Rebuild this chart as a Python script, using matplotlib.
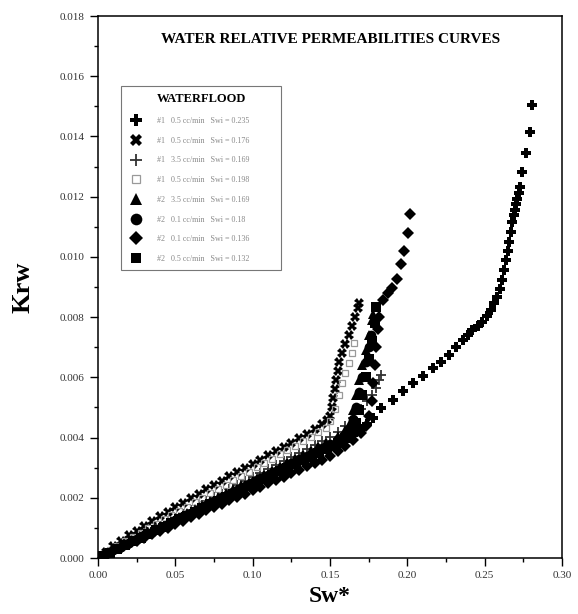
import matplotlib.pyplot as plt
from matplotlib.ticker import MultipleLocator, FormatStrFormatter

plt.rcParams["font.family"] = ["Liberation Serif", "DejaVu Serif"]

# series 1: #1 0.5 cc/min, Swi = 0.235 (bold plus)
sw_1 = [0.000, 0.005, 0.010, 0.015, 0.020, 0.025, 0.030, 0.035, 0.040, 0.045,
        0.050, 0.055, 0.060, 0.065, 0.070, 0.075, 0.080, 0.085, 0.090, 0.095,
        0.100, 0.105, 0.110, 0.115, 0.120, 0.125, 0.130, 0.135, 0.140, 0.145,
        0.150, 0.155, 0.160, 0.165, 0.170, 0.174, 0.178, 0.183, 0.1905, 0.1970,
        0.2034, 0.2100, 0.2163, 0.2217, 0.2270, 0.2313, 0.2357, 0.2390, 0.2420,
        0.2455, 0.2485, 0.2512, 0.2540, 0.2562, 0.2582, 0.2600, 0.2615, 0.2626,
        0.2636, 0.2648, 0.2658, 0.2668, 0.2679, 0.2688, 0.2696, 0.2704, 0.2711,
        0.2720, 0.2727, 0.2742, 0.2770, 0.2790, 0.2806]
krw_1 = [0.00000, 0.00013, 0.00026, 0.00039, 0.00051, 0.00063, 0.00075, 0.00087,
         0.00099, 0.00111, 0.00123, 0.00135, 0.00147, 0.00159, 0.00171, 0.00183,
         0.00195, 0.00207, 0.00219, 0.00231, 0.00243, 0.00255, 0.00267, 0.00279,
         0.00291, 0.00303, 0.00315, 0.00327, 0.00339, 0.00351, 0.00363, 0.00377,
         0.00393, 0.00410, 0.00428, 0.00445, 0.00465, 0.00497, 0.00525, 0.00553,
         0.00580, 0.00605, 0.00630, 0.00652, 0.00674, 0.00700, 0.00724, 0.00740,
         0.00757, 0.00771, 0.00785, 0.00805, 0.00824, 0.00846, 0.00868, 0.00895,
         0.00923, 0.00955, 0.00990, 0.01020, 0.01050, 0.01082, 0.01117, 0.01138,
         0.01156, 0.01175, 0.01192, 0.01212, 0.01231, 0.01283, 0.01344, 0.01414,
         0.01504]

# series 2: #1 0.5 cc/min, Swi = 0.176 (bold x)
sw_2 = [0.000, 0.005, 0.010, 0.015, 0.020, 0.025, 0.030, 0.035, 0.040, 0.045,
        0.050, 0.055, 0.060, 0.065, 0.070, 0.075, 0.080, 0.085, 0.090, 0.095,
        0.100, 0.105, 0.110, 0.115, 0.120, 0.125, 0.130, 0.135, 0.140, 0.145,
        0.148, 0.150, 0.151, 0.152, 0.153, 0.154, 0.155, 0.156, 0.158, 0.160,
        0.162, 0.164, 0.166, 0.168, 0.169]
krw_2 = [0.00000, 0.00021, 0.00040, 0.00058, 0.00075, 0.00091, 0.00107, 0.00123,
         0.00138, 0.00154, 0.00169, 0.00184, 0.00199, 0.00214, 0.00228, 0.00243,
         0.00257, 0.00271, 0.00285, 0.00299, 0.00313, 0.00327, 0.00341, 0.00355,
         0.00369, 0.00383, 0.00398, 0.00413, 0.00428, 0.00445, 0.00458, 0.00470,
         0.00500, 0.00530, 0.00560, 0.00590, 0.00620, 0.00650, 0.00680, 0.00710,
         0.00740, 0.00770, 0.00800, 0.00830, 0.00846]

# series 3: #1 3.5 cc/min, Swi = 0.169 (thin plus)
sw_3 = [0.000, 0.005, 0.010, 0.015, 0.020, 0.025, 0.030, 0.035, 0.040, 0.045,
        0.050, 0.055, 0.060, 0.065, 0.070, 0.075, 0.080, 0.085, 0.090, 0.095,
        0.100, 0.105, 0.110, 0.115, 0.120, 0.125, 0.130, 0.135, 0.140, 0.145,
        0.150, 0.155, 0.160, 0.165, 0.170, 0.174, 0.177, 0.180, 0.182, 0.183]
krw_3 = [0.00000, 0.00013, 0.00027, 0.00040, 0.00054, 0.00067, 0.00080, 0.00094,
         0.00107, 0.00121, 0.00134, 0.00147, 0.00161, 0.00174, 0.00188, 0.00201,
         0.00214, 0.00228, 0.00241, 0.00255, 0.00268, 0.00281, 0.00295, 0.00308,
         0.00322, 0.00335, 0.00348, 0.00362, 0.00375, 0.00389, 0.00402, 0.00420,
         0.00440, 0.00465, 0.00495, 0.00520, 0.00540, 0.00565, 0.00590, 0.00608]

# series 4: #1 0.5 cc/min, Swi = 0.198 (faint open marker)
sw_4 = [0.0025, 0.0075, 0.0125, 0.0175, 0.0225, 0.0275, 0.0325, 0.0375, 0.0425,
        0.0475, 0.0525, 0.0575, 0.0625, 0.0675, 0.0725, 0.0775, 0.0825, 0.0875,
        0.0925, 0.0975, 0.1025, 0.1075, 0.1125, 0.1175, 0.1225, 0.1275, 0.1325,
        0.1375, 0.1425, 0.1475, 0.150, 0.153, 0.156, 0.158, 0.160, 0.162, 0.164,
        0.1658]
krw_4 = [0.00009, 0.00025, 0.00040, 0.00055, 0.00069, 0.00084, 0.00099, 0.00113,
         0.00128, 0.00142, 0.00157, 0.00171, 0.00186, 0.00200, 0.00215, 0.00229,
         0.00243, 0.00258, 0.00272, 0.00286, 0.00301, 0.00315, 0.00329, 0.00344,
         0.00358, 0.00373, 0.00387, 0.00402, 0.00417, 0.00432, 0.00455, 0.00495,
         0.00540, 0.00580, 0.00615, 0.00648, 0.00682, 0.00713]

# series 5: #2 3.5 cc/min, Swi = 0.169 (triangle)
sw_5 = [0.0025, 0.0075, 0.0125, 0.0175, 0.0225, 0.0275, 0.0325, 0.0375, 0.0425,
        0.0475, 0.0525, 0.0575, 0.0625, 0.0675, 0.0725, 0.0775, 0.0825, 0.0875,
        0.0925, 0.0975, 0.1025, 0.1075, 0.1125, 0.1175, 0.1225, 0.1275, 0.1325,
        0.1375, 0.1425, 0.1475, 0.155, 0.160, 0.163, 0.165, 0.167, 0.169, 0.171,
        0.173, 0.175, 0.177, 0.178]
krw_5 = [0.00007, 0.00020, 0.00033, 0.00046, 0.00059, 0.00072, 0.00085, 0.00098,
         0.00111, 0.00124, 0.00137, 0.00150, 0.00163, 0.00176, 0.00189, 0.00202,
         0.00215, 0.00228, 0.00241, 0.00254, 0.00267, 0.00280, 0.00293, 0.00306,
         0.00319, 0.00332, 0.00345, 0.00358, 0.00371, 0.00384, 0.00405, 0.00425,
         0.00450, 0.00490, 0.00540, 0.00590, 0.00640, 0.00690, 0.00740, 0.00790,
         0.00810]

# series 6: #2 0.1 cc/min, Swi = 0.18 (circle)
sw_6 = [0.000, 0.005, 0.010, 0.015, 0.020, 0.025, 0.030, 0.035, 0.040, 0.045,
        0.050, 0.055, 0.060, 0.065, 0.070, 0.075, 0.080, 0.085, 0.090, 0.095,
        0.100, 0.105, 0.110, 0.115, 0.120, 0.125, 0.130, 0.135, 0.140, 0.145,
        0.150, 0.155, 0.160, 0.163, 0.165, 0.167, 0.169, 0.171, 0.173, 0.175,
        0.1765]
krw_6 = [0.00000, 0.00013, 0.00025, 0.00038, 0.00050, 0.00063, 0.00076, 0.00088,
         0.00101, 0.00113, 0.00126, 0.00139, 0.00151, 0.00164, 0.00176, 0.00189,
         0.00202, 0.00214, 0.00227, 0.00239, 0.00252, 0.00265, 0.00277, 0.00290,
         0.00302, 0.00315, 0.00328, 0.00340, 0.00353, 0.00365, 0.00378, 0.00395,
         0.00412, 0.00430, 0.00460, 0.00500, 0.00550, 0.00600, 0.00650, 0.00700,
         0.00740]

# series 7: #2 0.1 cc/min, Swi = 0.136 (diamond)
sw_7 = [0.000, 0.005, 0.010, 0.015, 0.020, 0.025, 0.030, 0.035, 0.040, 0.045,
        0.050, 0.055, 0.060, 0.065, 0.070, 0.075, 0.080, 0.085, 0.090, 0.095,
        0.100, 0.105, 0.110, 0.115, 0.120, 0.125, 0.130, 0.135, 0.140, 0.145,
        0.150, 0.155, 0.160, 0.165, 0.170, 0.173, 0.175, 0.177, 0.178, 0.179,
        0.180, 0.181, 0.182, 0.184, 0.1873, 0.1900, 0.1931, 0.1959, 0.1980,
        0.2002, 0.2017]
krw_7 = [0.00000, 0.00011, 0.00023, 0.00034, 0.00045, 0.00056, 0.00068, 0.00079,
         0.00090, 0.00101, 0.00113, 0.00124, 0.00135, 0.00146, 0.00158, 0.00169,
         0.00180, 0.00191, 0.00203, 0.00214, 0.00225, 0.00236, 0.00248, 0.00259,
         0.00270, 0.00281, 0.00293, 0.00304, 0.00315, 0.00326, 0.00338, 0.00355,
         0.00372, 0.00392, 0.00415, 0.00440, 0.00470, 0.00520, 0.00580, 0.00640,
         0.00700, 0.00760, 0.00800, 0.00857, 0.00881, 0.00896, 0.00926, 0.00976,
         0.01020, 0.01078, 0.01141]

# series 8: #2 0.5 cc/min, Swi = 0.132 (square)
sw_8 = [0.0025, 0.0075, 0.0125, 0.0175, 0.0225, 0.0275, 0.0325, 0.0375, 0.0425,
        0.0475, 0.0525, 0.0575, 0.0625, 0.0675, 0.0725, 0.0775, 0.0825, 0.0875,
        0.0925, 0.0975, 0.1025, 0.1075, 0.1125, 0.1175, 0.1225, 0.1275, 0.1325,
        0.1375, 0.1425, 0.1475, 0.155, 0.160, 0.164, 0.167, 0.169, 0.171, 0.173,
        0.175, 0.177, 0.179, 0.1798]
krw_8 = [0.00006, 0.00018, 0.00031, 0.00043, 0.00055, 0.00067, 0.00080, 0.00092,
         0.00104, 0.00116, 0.00129, 0.00141, 0.00153, 0.00165, 0.00178, 0.00190,
         0.00202, 0.00214, 0.00227, 0.00239, 0.00251, 0.00263, 0.00276, 0.00288,
         0.00300, 0.00312, 0.00325, 0.00337, 0.00349, 0.00361, 0.00383, 0.00400,
         0.00420, 0.00450, 0.00490, 0.00540, 0.00600, 0.00660, 0.00720, 0.00780,
         0.00833]

labels = [
    "#1   0.5 cc/min   Swi = 0.235",
    "#1   0.5 cc/min   Swi = 0.176",
    "#1   3.5 cc/min   Swi = 0.169",
    "#1   0.5 cc/min   Swi = 0.198",
    "#2   3.5 cc/min   Swi = 0.169",
    "#2   0.1 cc/min   Swi = 0.18",
    "#2   0.1 cc/min   Swi = 0.136",
    "#2   0.5 cc/min   Swi = 0.132",
]

series = [(sw_1, krw_1), (sw_2, krw_2), (sw_3, krw_3), (sw_4, krw_4),
          (sw_5, krw_5), (sw_6, krw_6), (sw_7, krw_7), (sw_8, krw_8)]
styles = [
    dict(marker="P", ms=7, color="black", mew=0),
    dict(marker="X", ms=7, color="black", mew=0),
    dict(marker="+", ms=7, color="#333333", mew=1.3),
    dict(marker="s", ms=5, mfc="none", mec="#999999", mew=0.9),
    dict(marker="^", ms=7, color="black", mew=0),
    dict(marker="o", ms=7, color="black", mew=0),
    dict(marker="D", ms=6, color="black", mew=0),
    dict(marker="s", ms=6.5, color="black", mew=0),
]

fig = plt.figure(figsize=(5.78, 6.14), dpi=100)
ax = fig.add_axes([0.1696, 0.0912, 0.8027, 0.8827])

for (x, y), lab, st in zip(series, labels, styles):
    ax.plot(x, y, linestyle="none", label=lab, **st)

ax.set_xlim(0, 0.30)
ax.set_ylim(0, 0.018)
ax.xaxis.set_major_locator(MultipleLocator(0.05))
ax.xaxis.set_minor_locator(MultipleLocator(0.025))
ax.yaxis.set_major_locator(MultipleLocator(0.002))
ax.yaxis.set_minor_locator(MultipleLocator(0.001))
ax.xaxis.set_major_formatter(FormatStrFormatter("%.2f"))
ax.yaxis.set_major_formatter(FormatStrFormatter("%.3f"))
ax.tick_params(which="major", direction="out", length=6, width=1,
               labelsize=8, labelcolor="#333333", top=False, right=False)
ax.tick_params(which="minor", direction="out", length=3, width=1,
               top=False, right=False)
for sp in ax.spines.values():
    sp.set_linewidth(1.1)

ax.set_xlabel("Sw*", fontsize=17, fontweight="bold", labelpad=4)
ax.set_ylabel("Krw", fontsize=19, fontweight="bold", labelpad=18)

ax.text(0.502, 0.956, "WATER RELATIVE PERMEABILITIES CURVES",
        transform=ax.transAxes, ha="center", va="center",
        fontsize=11, fontweight="bold")

leg = ax.legend(loc="upper left", bbox_to_anchor=(0.041, 0.55, 0.362, 0.328),
                mode="expand", fontsize=5.8, title="WATERFLOOD",
                title_fontproperties={"weight": "bold", "size": 9,
                                      "family": "Liberation Serif"},
                labelspacing=1.45, handletextpad=1.6, borderpad=0.9,
                frameon=True, fancybox=False, edgecolor="#555555",
                markerscale=1.2)
leg.get_frame().set_linewidth(0.8)
for t in leg.get_texts():
    t.set_color("#888888")

fig.savefig("out.png", dpi=100)
